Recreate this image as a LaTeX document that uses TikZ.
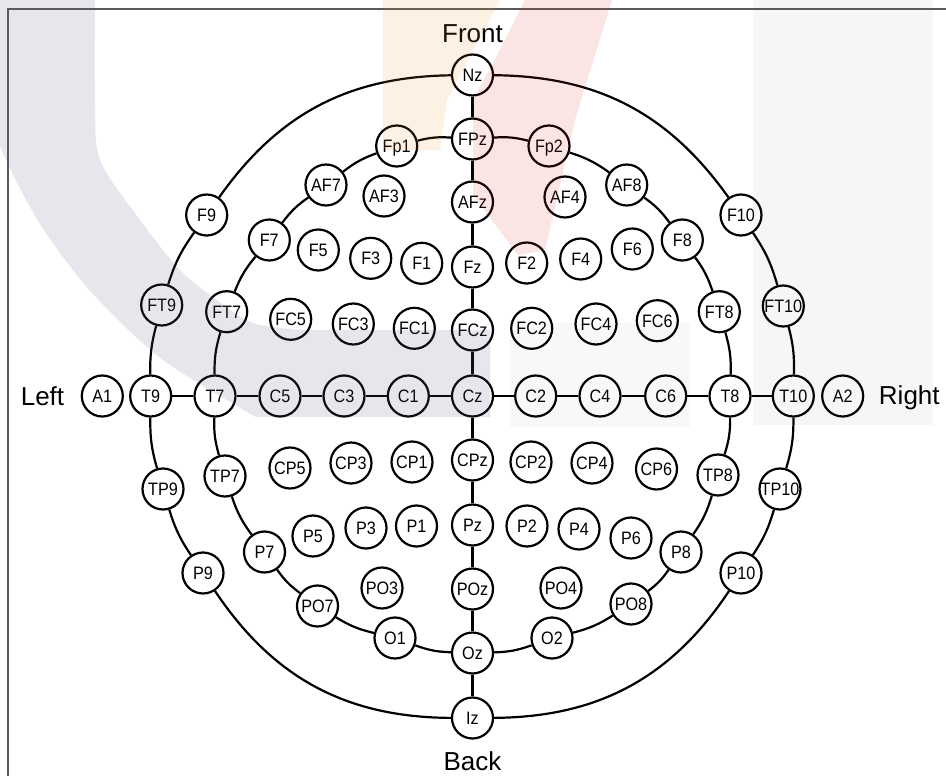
\documentclass[tikz,border=0pt]{standalone}
\usepackage{fontspec}
\setmainfont{Liberation Sans}
\newfontfamily\elfam[FakeStretch=0.9]{Liberation Sans}
\definecolor{wmgray}{RGB}{90,90,130}
\definecolor{wmred}{RGB}{220,40,40}
\definecolor{wmorange}{RGB}{240,140,40}
\definecolor{framegray}{RGB}{90,90,90}
\pgfdeclarelayer{wires}
\pgfdeclarelayer{overlay}
\pgfsetlayers{wires,main,overlay}
\begin{document}
\begin{tikzpicture}[x=1pt,y=1pt,
  el/.style={circle,draw=black,line width=2.2pt,fill=white,minimum size=41pt,inner sep=0pt,
    font=\elfam\fontsize{18}{18}\selectfont,text height=12.8pt,text depth=0pt},
  wire/.style={line width=2.2pt,black},
  dirlabel/.style={font=\fontsize{26}{26}\selectfont,inner sep=0pt,anchor=base},
  ring/.style={bend right=9},
  ringr/.style={bend left=9}]
\useasboundingbox (0,0) rectangle (946,-776);
% direction labels
\node[dirlabel] (front) at (472.5,-42.7) {Front};
\node[dirlabel] (back) at (472.5,-770) {Back};
\node[dirlabel] (left) at (42.5,-405) {Left};
\node[dirlabel] (right) at (909.3,-404.5) {Right};
% electrodes
\node[el] (Nz) at (472.5,-75) {Nz};
\node[el] (FPz) at (472.5,-139) {FPz};
\node[el] (Fp1) at (396.7,-146) {Fp1};
\node[el] (Fp2) at (549,-146) {Fp2};
\node[el] (AF7) at (326,-185) {AF7};
\node[el] (AF3) at (384,-196) {AF3};
\node[el] (AFz) at (472.5,-202) {AFz};
\node[el] (AF4) at (565,-197) {AF4};
\node[el] (AF8) at (626.7,-185) {AF8};
\node[el] (F9) at (206.7,-215) {F9};
\node[el] (F10) at (741,-215) {F10};
\node[el] (F7) at (269.3,-240) {F7};
\node[el] (F5) at (318.3,-250) {F5};
\node[el] (F3) at (370.7,-258.3) {F3};
\node[el] (F1) at (421.7,-263.3) {F1};
\node[el] (Fz) at (472.5,-267) {Fz};
\node[el] (F2) at (526.7,-263) {F2};
\node[el] (F4) at (580.7,-259) {F4};
\node[el] (F6) at (632.3,-249) {F6};
\node[el] (F8) at (682.3,-240) {F8};
\node[el] (FT9) at (161.7,-305) {FT9};
\node[el] (FT7) at (226.7,-311.7) {FT7};
\node[el] (FC5) at (290.7,-319.3) {FC5};
\node[el] (FC3) at (353.3,-324) {FC3};
\node[el] (FC1) at (414.3,-328.3) {FC1};
\node[el] (FCz) at (472.5,-330) {FCz};
\node[el] (FC2) at (531.7,-328.3) {FC2};
\node[el] (FC4) at (596,-324) {FC4};
\node[el] (FC6) at (657.3,-320.7) {FC6};
\node[el] (FT8) at (719.3,-311.7) {FT8};
\node[el] (FT10) at (783.3,-306) {FT10};
\node[el] (A1) at (102.3,-396) {A1};
\node[el] (T9) at (150.7,-396) {T9};
\node[el] (T7) at (215,-396) {T7};
\node[el] (C5) at (280,-396) {C5};
\node[el] (C3) at (344,-396) {C3};
\node[el] (C1) at (408.3,-396) {C1};
\node[el] (Cz) at (472.5,-396) {Cz};
\node[el] (C2) at (535.7,-396) {C2};
\node[el] (C4) at (600,-396) {C4};
\node[el] (C6) at (665.7,-396) {C6};
\node[el] (T8) at (730,-396) {T8};
\node[el] (T10) at (793.3,-396) {T10};
\node[el] (A2) at (842.7,-396) {A2};
\node[el] (TP9) at (163,-489) {TP9};
\node[el] (TP7) at (225,-476) {TP7};
\node[el] (CP5) at (290,-468) {CP5};
\node[el] (CP3) at (351,-463) {CP3};
\node[el] (CP1) at (412,-462) {CP1};
\node[el] (CPz) at (472.5,-460) {CPz};
\node[el] (CP2) at (531,-462) {CP2};
\node[el] (CP4) at (592,-463) {CP4};
\node[el] (CP6) at (656.5,-469) {CP6};
\node[el] (TP8) at (718,-475) {TP8};
\node[el] (TP10) at (780,-489) {TP10};
\node[el] (P9) at (203,-573) {P9};
\node[el] (P7) at (264.5,-552) {P7};
\node[el] (P5) at (313,-536) {P5};
\node[el] (P3) at (366,-528) {P3};
\node[el] (P1) at (416.5,-526) {P1};
\node[el] (Pz) at (472.5,-525) {Pz};
\node[el] (P2) at (527,-526) {P2};
\node[el] (P4) at (579,-529) {P4};
\node[el] (P6) at (631,-538) {P6};
\node[el] (P8) at (681,-552) {P8};
\node[el] (P10) at (741,-573) {P10};
\node[el] (PO7) at (317.5,-606) {PO7};
\node[el] (PO3) at (382,-588) {PO3};
\node[el] (POz) at (472.5,-589) {POz};
\node[el] (PO4) at (561,-588) {PO4};
\node[el] (PO8) at (631,-604) {PO8};
\node[el] (O1) at (395,-638) {O1};
\node[el] (Oz) at (472.5,-653) {Oz};
\node[el] (O2) at (552,-638) {O2};
\node[el] (Iz) at (472.5,-718) {Iz};
\begin{pgfonlayer}{wires}
\fill[white] (0,0) rectangle (946,-776);
\draw[framegray,line width=1.5pt] (946,-9) -- (8,-9) -- (8,-776);
% midline
\draw[wire] (Nz) -- (FPz) -- (AFz) -- (Fz) -- (FCz) -- (Cz) -- (CPz) -- (Pz) -- (POz) -- (Oz) -- (Iz);
% central row
\draw[wire] (T9) -- (T7) -- (C5) -- (C3) -- (C1) -- (Cz) -- (C2) -- (C4) -- (C6) -- (T8) -- (T10);
% outer ring
\draw[wire] (Nz) to[bend right=27] (F9);
\draw[wire] (F9) to[ring] (FT9);
\draw[wire] (FT9) to[bend right=8] (T9);
\draw[wire] (T9) to[bend right=8.5] (TP9);
\draw[wire] (TP9) to[bend right=8.5] (P9);
\draw[wire] (P9) to[bend right=28] (Iz);
\draw[wire] (Nz) to[bend left=27] (F10);
\draw[wire] (F10) to[ringr] (FT10);
\draw[wire] (FT10) to[bend left=8] (T10);
\draw[wire] (T10) to[bend left=8.5] (TP10);
\draw[wire] (TP10) to[bend left=8.5] (P10);
\draw[wire] (P10) to[bend left=28] (Iz);
% inner ring
\draw[wire] (FPz) to[ring] (Fp1);
\draw[wire] (Fp1) to[ring] (AF7);
\draw[wire] (AF7) to[ring] (F7);
\draw[wire] (F7) to[ring] (FT7);
\draw[wire] (FT7) to[ring] (T7);
\draw[wire] (T7) to[ring] (TP7);
\draw[wire] (TP7) to[ring] (P7);
\draw[wire] (P7) to[ring] (PO7);
\draw[wire] (PO7) to[ring] (O1);
\draw[wire] (O1) to[ring] (Oz);
\draw[wire] (FPz) to[ringr] (Fp2);
\draw[wire] (Fp2) to[ringr] (AF8);
\draw[wire] (AF8) to[ringr] (F8);
\draw[wire] (F8) to[ringr] (FT8);
\draw[wire] (FT8) to[ringr] (T8);
\draw[wire] (T8) to[ringr] (TP8);
\draw[wire] (TP8) to[ringr] (P8);
\draw[wire] (P8) to[ringr] (PO8);
\draw[wire] (PO8) to[ringr] (O2);
\draw[wire] (O2) to[ringr] (Oz);
\end{pgfonlayer}
% watermark overlay
\begin{pgfonlayer}{overlay}
\clip (0,0) rectangle (946,-776);
\fill[wmgray,opacity=0.15] plot[smooth] coordinates {(-35,0) (-16,-100) (6,-160) (42,-227) (92,-293) (163,-360) (256,-417)}
  -- (490,-417) -- (490,-330) -- plot[smooth] coordinates {(300,-330) (253,-323) (217,-300) (180,-270) (140,-220) (100,-160) (95,-100) (95,0)} -- cycle;
\fill[wmgray,opacity=0.05] (753,0) rectangle (933,-425);
\fill[wmgray,opacity=0.04] (510,-323) rectangle (690,-427);
\fill[wmorange,opacity=0.12] (383,0) -- (500,0) -- (447,-100) -- (440,-150) -- (383,-150) -- cycle;
\fill[wmred,opacity=0.12] (525,0) -- (612,0) -- (575,-120) -- (545,-250) -- (518,-255) -- (473,-195) -- (473,-100) -- (500,-50) -- cycle;
\end{pgfonlayer}
\end{tikzpicture}
\end{document}
